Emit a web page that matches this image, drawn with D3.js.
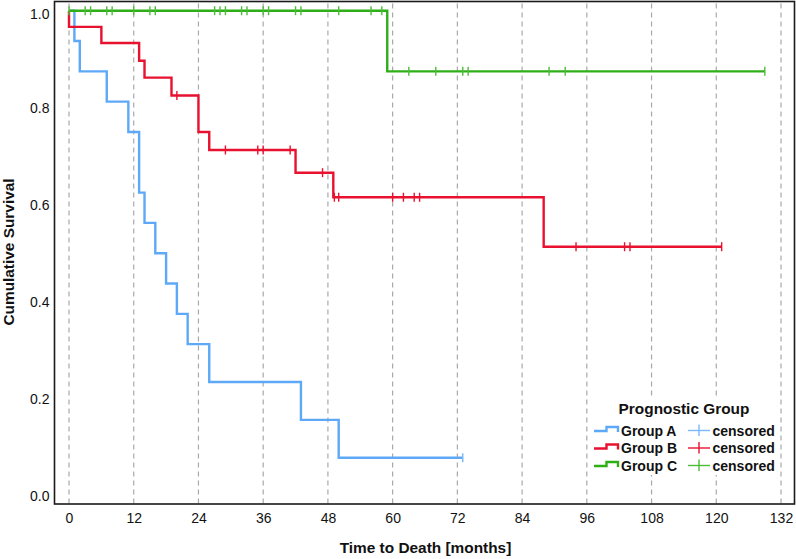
<!DOCTYPE html>
<html>
<head>
<meta charset="utf-8">
<script src="https://cdn.jsdelivr.net/npm/d3@7"></script>
<style>
html,body{margin:0;padding:0;background:#fff;}
svg{display:block;font-family:"Liberation Sans",Arial,sans-serif;}
</style>
</head>
<body>
<svg id="chart" width="796" height="559"></svg>
<script>
// ---- data ----
const xTicks = [0,12,24,36,48,60,72,84,96,108,120,132];
const yTicks = [0,0.2,0.4,0.6,0.8,1.0];
const groups = ["Group A","Group B","Group C"];

const groupATimes = [1,2,7,11,13,14,16,18,20,22,26,43,50];
const groupASurv  = [0.9375,0.875,0.8125,0.75,0.625,0.5625,0.5,0.4375,0.375,0.3125,0.2344,0.1563,0.0781];
const groupACensored = [73];
const groupAEnd = 73;

const groupBTimes = [0,6,13,14,19,24,26,42,49,88];
const groupBSurv  = [0.9667,0.9333,0.8967,0.8621,0.8253,0.75,0.7128,0.666,0.6154,0.5134];
const groupBCensored = [20,29,35,36,41,47,49.2,50,60,62,64,65,94,103,104,121];
const groupBEnd = 121;

const groupCTimes = [59];
const groupCSurv  = [0.875];
const groupCCensored = [0,3,4,7,8,12,15,16,27,28,29,32,33,36,37,42,43,50,56,58,63,68,73,74,89,92,129];
const groupCEnd = 129;

const lineColors = ["#5ea9f7","#e8112f","#2faf17"];
const censorColors = ["#7ab8f8","#e8112f","#4cbc3a"];

// ---- build ----
const series = [
  {times:groupATimes, surv:groupASurv, cens:groupACensored, end:groupAEnd},
  {times:groupBTimes, surv:groupBSurv, cens:groupBCensored, end:groupBEnd},
  {times:groupCTimes, surv:groupCSurv, cens:groupCCensored, end:groupCEnd}
];

const svg = d3.select("#chart");
const plot = {left:54.5, top:1.5, right:794.5, bottom:504};
const x = d3.scaleLinear().domain([0,132]).range([69,781]);
const y = d3.scaleLinear().domain([0,1]).range([495.7,10.7]);

// gridlines
svg.append("g").selectAll("line").data(xTicks).join("line")
  .attr("x1",d=>x(d)).attr("x2",d=>x(d))
  .attr("y1",plot.top+2).attr("y2",plot.bottom)
  .attr("stroke","#a8a8a8").attr("stroke-width",1.2)
  .attr("stroke-dasharray","5,4");

// x axis (labels only)
const xAxis = d3.axisBottom(x).tickValues(xTicks).tickSize(0).tickPadding(0).tickFormat(d3.format("d"));
const gx = svg.append("g").attr("transform",`translate(0,${plot.bottom})`).call(xAxis);
gx.select(".domain").remove();
gx.selectAll("text").attr("y",18.5).attr("dy","0").attr("font-size",14).attr("fill","#111")
  .attr("font-family","Liberation Sans, Arial, sans-serif");

// y axis
const yAxis = d3.axisLeft(y).tickValues(yTicks).tickSize(0).tickPadding(0).tickFormat(d3.format(".1f"));
const gy = svg.append("g").attr("transform",`translate(49.5,0)`).call(yAxis);
gy.select(".domain").remove();
gy.selectAll("text").attr("x",0).attr("dy","0.36em").attr("font-size",14).attr("fill","#111")
  .attr("font-family","Liberation Sans, Arial, sans-serif");
gy.selectAll(".tick").filter(d=>d===1).select("text").attr("dy","0.55em");

// curves
const line = d3.line().x(d=>x(d[0])).y(d=>y(d[1])).curve(d3.curveStepAfter);
series.forEach((s,i)=>{
  const pts = [[0,1]];
  s.times.forEach((t,j)=>pts.push([t,s.surv[j]]));
  pts.push([s.end, s.surv[s.surv.length-1]]);
  const g = svg.append("g");
  g.append("path").datum(pts).attr("d",line).attr("fill","none")
    .attr("stroke",lineColors[i]).attr("stroke-width",2.4).attr("stroke-linejoin","miter");
  const survAt = t => {
    let v = 1;
    s.times.forEach((tt,j)=>{ if (tt <= t) v = s.surv[j]; });
    return v;
  };
  g.selectAll("line.c").data(s.cens).join("line").attr("class","c")
    .attr("x1",d=>x(d)).attr("x2",d=>x(d))
    .attr("y1",d=>y(survAt(d))-4.5).attr("y2",d=>y(survAt(d))+4.5)
    .attr("stroke",censorColors[i]).attr("stroke-width",1.4);
});

// frame
svg.append("rect").attr("x",plot.left).attr("y",plot.top)
  .attr("width",plot.right-plot.left).attr("height",plot.bottom-plot.top)
  .attr("fill","none").attr("stroke","#1a1a1a").attr("stroke-width",1.6);

// axis titles
svg.append("text").attr("x",425.5).attr("y",552.5).attr("text-anchor","middle")
  .attr("font-size",15.4).attr("font-weight","bold").attr("fill","#111")
  .text("Time to Death [months]");
svg.append("text").attr("transform","translate(14,252) rotate(-90)").attr("text-anchor","middle")
  .attr("font-size",15.4).attr("font-weight","bold").attr("fill","#111")
  .text("Cumulative Survival");

// legend
const lg = svg.append("g");
lg.append("rect").attr("x",591).attr("y",399).attr("width",188).attr("height",76).attr("fill","#fff");
lg.append("text").attr("x",684).attr("y",413.5).attr("text-anchor","middle")
  .attr("font-size",15.4).attr("font-weight","bold").attr("fill","#111").text("Prognostic Group");
const rowY = [430.5,448,465.5];
groups.forEach((g,i)=>{
  const cy = rowY[i];
  lg.append("path")
    .attr("d",`M594,${cy+0.5}H606.5V${cy-3.5}H618V${cy+1.5}`)
    .attr("fill","none").attr("stroke",lineColors[i]).attr("stroke-width",2.4);
  lg.append("text").attr("x",621).attr("y",cy+5.3).attr("font-size",14).attr("font-weight","bold")
    .attr("fill","#111").text(g);
  lg.append("line").attr("x1",688).attr("x2",710).attr("y1",cy).attr("y2",cy)
    .attr("stroke",censorColors[i]).attr("stroke-width",1.4);
  lg.append("line").attr("x1",699).attr("x2",699).attr("y1",cy-6).attr("y2",cy+5.5)
    .attr("stroke",censorColors[i]).attr("stroke-width",1.4);
  lg.append("text").attr("x",712.5).attr("y",cy+5.3).attr("font-size",14).attr("font-weight","bold")
    .attr("fill","#111").text("censored");
});
</script>
</body>
</html>
